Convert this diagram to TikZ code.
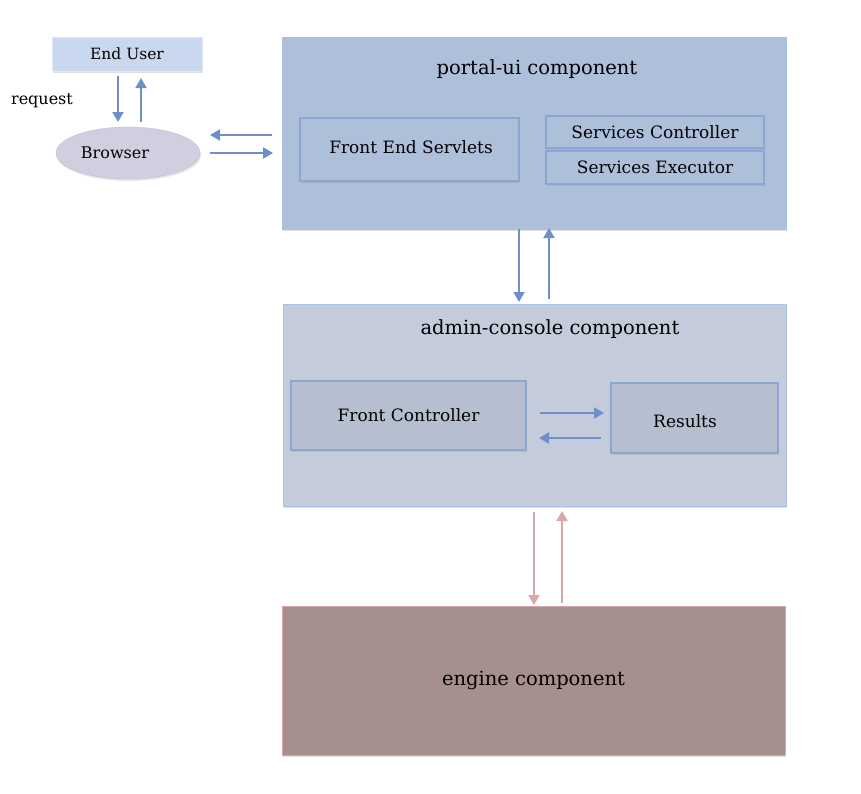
\documentclass[tikz,border=0pt]{standalone}
\usepackage{fontspec}
\setmainfont{DejaVu Serif}
\usetikzlibrary{arrows.meta,shadows,shapes.geometric}

\definecolor{portalfill}{HTML}{AEBFDA}
\definecolor{adminfill}{HTML}{C4CBDA}
\definecolor{innerfill}{HTML}{B5BFD0}
\definecolor{enginefill}{HTML}{A6908E}
\definecolor{userfill}{HTML}{C9D8EF}
\definecolor{browserfill}{HTML}{D2CEDF}
\definecolor{blueline}{HTML}{6E90C8}
\definecolor{lightblue}{HTML}{A8C2EA}
\definecolor{pinkline}{HTML}{D6A8A8}

\tikzset{
  comp/.style={draw=#1, line width=1pt, drop shadow={opacity=0.25,shadow xshift=1pt,shadow yshift=-2pt}},
  part/.style={draw=blueline!80, line width=1.2pt, fill=#1, inner sep=0pt,
    drop shadow={opacity=0.2,shadow xshift=1pt,shadow yshift=-2pt}},
  lbl/.style={font=\fontsize{17}{20}\selectfont},
  small/.style={font=\fontsize{16}{19}\selectfont},
  ttl/.style={font=\fontsize{19.5}{23}\selectfont},
  flow/.style={draw=blueline, line width=2pt, -{Triangle[length=10pt,width=11pt]}},
  pflow/.style={flow, draw=pinkline},
}

\begin{document}
\begin{tikzpicture}[x=1pt, y=-1pt]

  \useasboundingbox (0,0) rectangle (861,793);

  % Define nodes
  \node[comp=userfill!60!white, fill=userfill, minimum width=150pt, minimum height=34pt, font=\fontsize{15.5}{18}\selectfont] (user) at (127,54) {End User};
  \node[small] (req) at (42,101) {request};
  \node[ellipse, draw=browserfill!80!gray, fill=browserfill, minimum width=144pt, minimum height=52pt,
        drop shadow={opacity=0.2,shadow xshift=1pt,shadow yshift=-2pt}, small] (browser) at (128,153) {};
  \node[small] (browsertext) at (115,153) {Browser};

  % Components
  \node[comp=lightblue, fill=portalfill, minimum width=504pt, minimum height=192pt] (portal) at (534,133) {};
  \node[ttl] (portaltitle) at (537,69) {portal-ui component};
  \node[part=portalfill, minimum width=219pt, minimum height=63pt, lbl] (servlets) at (409.5,149.5) {};
  \node[lbl] at (411,147) {Front End Servlets};
  \node[part=portalfill, minimum width=218pt, minimum height=32pt, lbl] (sctrl) at (655,132) {Services Controller};
  \node[part=portalfill, minimum width=218pt, minimum height=33pt, lbl] (sexec) at (655,167.5) {Services Executor};

  \node[comp=lightblue, fill=adminfill, minimum width=503pt, minimum height=202pt] (admin) at (534.5,405) {};
  \node[ttl] (admintitle) at (550,329) {admin-console component};
  \node[part=innerfill, minimum width=235pt, minimum height=69pt, lbl] (front) at (408.5,415.5) {Front Controller};
  \node[part=innerfill, minimum width=167pt, minimum height=70pt, lbl] (results) at (694.5,418) {};
  \node[lbl] at (685,421) {Results};

  \node[comp=pinkline, fill=enginefill, minimum width=503pt, minimum height=149pt, ttl] (engine) at (533.5,680.5) {engine component};

  % Connect the nodes
  \coordinate (a1) at (118,76);  \coordinate (a2) at (118,122);
  \coordinate (b1) at (141,122); \coordinate (b2) at (141,78);
  \draw[flow] (a1) -- (a2);
  \draw[flow] (b1) -- (b2);

  \coordinate (c1) at (272,135); \coordinate (c2) at (210,135);
  \coordinate (d1) at (210,153); \coordinate (d2) at (273,153);
  \draw[flow] (c1) -- (c2);
  \draw[flow] (d1) -- (d2);

  \coordinate (e1) at (519,229); \coordinate (e2) at (519,302);
  \coordinate (f1) at (549,299); \coordinate (f2) at (549,228);
  \draw[flow] (e1) -- (e2);
  \draw[flow] (f1) -- (f2);

  \coordinate (g1) at (540,413); \coordinate (g2) at (604,413);
  \coordinate (h1) at (601,438); \coordinate (h2) at (539,438);
  \draw[flow] (g1) -- (g2);
  \draw[flow] (h1) -- (h2);

  \coordinate (i1) at (534,512); \coordinate (i2) at (534,605);
  \coordinate (j1) at (562,603); \coordinate (j2) at (562,511);
  \draw[pflow] (i1) -- (i2);
  \draw[pflow] (j1) -- (j2);

\end{tikzpicture}
\end{document}
